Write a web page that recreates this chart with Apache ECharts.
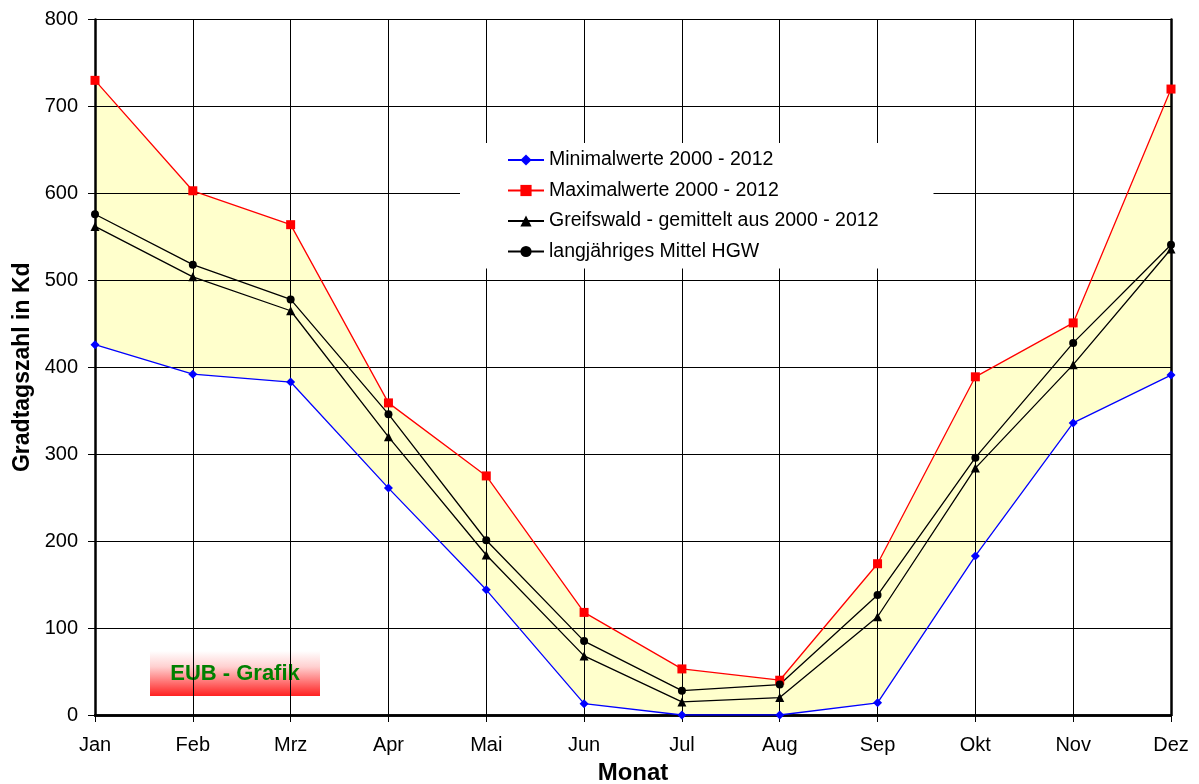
<!DOCTYPE html>
<html>
<head>
<meta charset="utf-8">
<script src="https://cdn.jsdelivr.net/npm/echarts@6/dist/echarts.min.js"></script>
<style>
  html, body { margin: 0; padding: 0; background: #fff; }
  #chart { width: 1199px; height: 784px; }
</style>
</head>
<body>
<div id="chart"></div>
<script>
// Monthly heating degree days (Kd), Greifswald
const months = ['Jan', 'Feb', 'Mrz', 'Apr', 'Mai', 'Jun', 'Jul', 'Aug', 'Sep', 'Okt', 'Nov', 'Dez'];
const minValues = [426, 392, 383, 261, 144, 13, 0, 0, 14, 183, 336, 391];
const maxValues = [730, 603, 564, 359, 275, 118, 53, 40, 174, 389, 451, 720];
const greifswaldAvg = [562, 504, 465, 320, 184, 68, 15, 20, 113, 284, 403, 536];
const longTermAvg = [576, 518, 478, 346, 201, 85, 28, 35, 138, 296, 428, 541];
const yTicks = [0, 100, 200, 300, 400, 500, 600, 700, 800];

const names = {
  min: 'Minimalwerte 2000 - 2012',
  max: 'Maximalwerte 2000 - 2012',
  hgw: 'Greifswald - gemittelt aus 2000 - 2012',
  mean: 'langjähriges Mittel HGW'
};

// band between minimum and maximum, stacked on top of the minimum
const bandWidth = maxValues.map((v, i) => v - minValues[i]);

const font = 'Liberation Sans, Arial, sans-serif';

const chart = echarts.init(document.getElementById('chart'), null, { renderer: 'canvas' });

const lineSeries = (name, data, color, symbol, size) => ({
  name, type: 'line', data, z: 5,
  symbol, symbolSize: size, showSymbol: true,
  itemStyle: { color },
  lineStyle: { color, width: 1.3 },
  emphasis: { disabled: true }
});

chart.setOption({
  animation: false,
  backgroundColor: '#fff',
  textStyle: { fontFamily: font },
  grid: { left: 95, right: 28, top: 19.5, bottom: 69, containLabel: false, outerBoundsMode: 'none' },
  legend: {
    data: [names.min, names.max, names.hgw, names.mean],
    orient: 'vertical',
    left: 460, top: 143,
    padding: [7, 55, 7, 47],
    itemGap: 10.5,
    itemWidth: 36, itemHeight: 14,
    backgroundColor: '#fff',
    z: 10,
    textStyle: { fontFamily: font, fontSize: 19.5, lineHeight: 20, color: '#000' }
  },
  xAxis: [{
    type: 'category', data: months, boundaryGap: false, z: 3,
    name: 'Monat', nameLocation: 'middle', nameGap: 46,
    nameTextStyle: { fontFamily: font, fontSize: 24, fontWeight: 'bold', color: '#000' },
    axisLine: { lineStyle: { color: '#000', width: 2.5 } },
    axisTick: { show: true, alignWithLabel: true, length: 7, lineStyle: { color: '#000' } },
    axisLabel: { fontFamily: font, fontSize: 20, color: '#000', margin: 20 },
    splitLine: { show: true, lineStyle: { color: '#000', width: 1 } }
  }, {
    type: 'category', data: months, boundaryGap: false, position: 'top', z: 3,
    axisLine: { lineStyle: { color: '#000', width: 2.5 } },
    axisTick: { show: false }, axisLabel: { show: false }, splitLine: { show: false }
  }],
  yAxis: [{
    type: 'value', min: yTicks[0], max: yTicks[yTicks.length - 1], interval: 100, z: 3,
    name: 'Gradtagszahl in Kd', nameLocation: 'middle', nameGap: 60, nameRotate: 90,
    nameTextStyle: { fontFamily: font, fontSize: 23, fontWeight: 'bold', color: '#000' },
    axisLine: { show: true, lineStyle: { color: '#000', width: 2.5 } },
    axisTick: { show: true, length: 7, lineStyle: { color: '#000' } },
    axisLabel: { fontFamily: font, fontSize: 20, color: '#000', margin: 17 },
    splitLine: { show: true, lineStyle: { color: '#000', width: 1 } }
  }, {
    type: 'value', min: yTicks[0], max: yTicks[yTicks.length - 1], interval: 100, position: 'right', z: 3,
    axisLine: { show: true, lineStyle: { color: '#000', width: 2.5 } },
    axisTick: { show: false }, axisLabel: { show: false }, splitLine: { show: false }
  }],
  series: [
    {
      name: 'band-base', type: 'line', data: minValues, stack: 'band', z: 1,
      symbol: 'none', lineStyle: { opacity: 0 }, silent: true
    },
    {
      name: 'band', type: 'line', data: bandWidth, stack: 'band', z: 1,
      symbol: 'none', lineStyle: { opacity: 0 }, silent: true,
      areaStyle: { color: '#ffffcc', opacity: 1 }
    },
    lineSeries(names.min, minValues, '#0000ff', 'diamond', 9),
    lineSeries(names.max, maxValues, '#ff0000', 'rect', 9),
    lineSeries(names.hgw, greifswaldAvg, '#000000', 'triangle', 9),
    lineSeries(names.mean, longTermAvg, '#000000', 'circle', 8)
  ],
  graphic: [{
    type: 'group', left: 150, top: 651, z: 20,
    children: [{
      type: 'rect', shape: { x: 0, y: 0, width: 170, height: 45 },
      style: {
        fill: new echarts.graphic.LinearGradient(0, 0, 0, 1, [
          { offset: 0, color: '#ffffff' },
          { offset: 0.35, color: '#ffd0d0' },
          { offset: 1, color: '#ff2020' }
        ])
      }
    }, {
      type: 'text', x: 85, y: 22.5,
      style: {
        text: 'EUB - Grafik', fill: '#008000', align: 'center', verticalAlign: 'middle',
        font: 'bold 22px Liberation Sans, Arial, sans-serif'
      }
    }]
  }]
});
</script>
</body>
</html>
